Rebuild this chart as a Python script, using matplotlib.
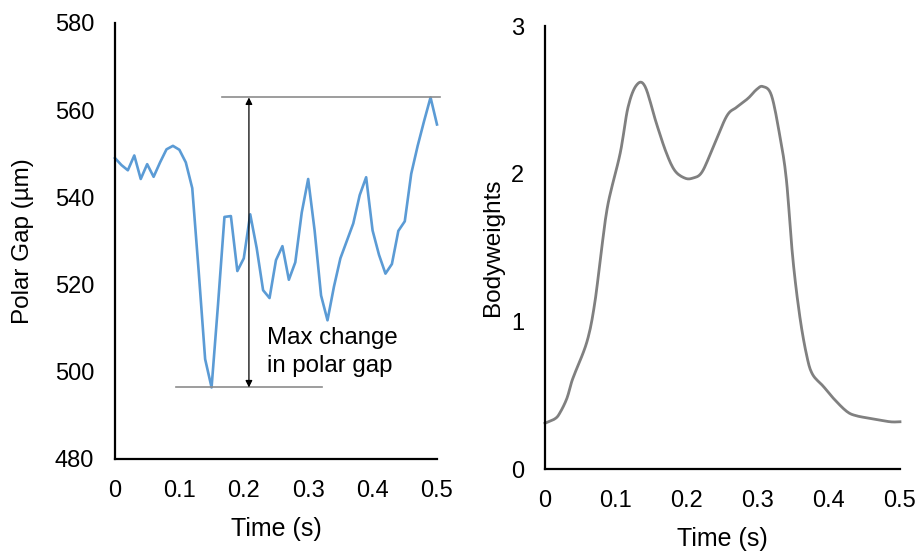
import matplotlib
matplotlib.use('Agg')
import matplotlib.pyplot as plt
import numpy as np

plt.rcParams['font.family'] = ['Liberation Sans', 'DejaVu Sans']

# polar gap trace, sampled every 10 ms
gap_time = [i / 100 for i in range(51)]
gap_um = [549.0, 547.4, 546.2, 549.6, 544.2, 547.6, 544.7, 548.0, 551.0, 551.8,
          550.9, 548.0, 542.1, 523.0, 502.9, 496.4, 515.4, 535.5, 535.7, 523.1,
          526.0, 536.1, 528.4, 518.7, 516.9, 525.6, 528.8, 521.1, 525.1, 536.5,
          544.2, 532.4, 517.5, 511.8, 519.5, 526.0, 530.0, 534.0, 540.5, 544.6,
          532.4, 526.8, 522.5, 524.7, 532.3, 534.5, 545.4, 551.8, 557.5, 562.9,
          556.7]

# ground reaction force in bodyweights
bw_time = [0.000, 0.014, 0.021, 0.031, 0.039, 0.059, 0.070, 0.080, 0.089, 0.106,
           0.117, 0.129, 0.141, 0.157, 0.171, 0.183, 0.197, 0.208, 0.221, 0.237,
           0.256, 0.270, 0.286, 0.298, 0.307, 0.319, 0.331, 0.340, 0.349, 0.359,
           0.369, 0.377, 0.392, 0.406, 0.425, 0.439, 0.462, 0.486, 0.500]
bw = [0.31, 0.34, 0.38, 0.48, 0.61, 0.86, 1.12, 1.50, 1.80, 2.14,
      2.45, 2.60, 2.59, 2.34, 2.14, 2.02, 1.97, 1.97, 2.01, 2.18,
      2.39, 2.45, 2.51, 2.57, 2.59, 2.53, 2.25, 1.96, 1.43, 1.03,
      0.76, 0.64, 0.56, 0.48, 0.39, 0.36, 0.34, 0.32, 0.32]

x_ticks = [0, 0.1, 0.2, 0.3, 0.4, 0.5]
x_ticklabels = ['0', '0.1', '0.2', '0.3', '0.4', '0.5']
gap_ticks = [480, 500, 520, 540, 560, 580]
bw_ticks = [0, 1, 2, 3]

gap_min = min(gap_um)
gap_max = max(gap_um)


def smooth_line(x, y, steps=8):
    # Catmull-Rom curve through the points, like a spreadsheet "smoothed line"
    x = np.asarray(x, float)
    y = np.asarray(y, float)
    px = np.concatenate([[x[0]], x, [x[-1]]])
    py = np.concatenate([[y[0]], y, [y[-1]]])
    xs, ys = [], []
    s = np.linspace(0, 1, steps, endpoint=False)
    for i in range(1, len(px) - 2):
        for p, out in ((px, xs), (py, ys)):
            p0, p1, p2, p3 = p[i - 1], p[i], p[i + 1], p[i + 2]
            out.extend(0.5 * (2 * p1 + (-p0 + p2) * s
                              + (2 * p0 - 5 * p1 + 4 * p2 - p3) * s ** 2
                              + (-p0 + 3 * p1 - 3 * p2 + p3) * s ** 3))
    xs.append(x[-1])
    ys.append(y[-1])
    return xs, ys


fig = plt.figure(figsize=(9.19, 5.51), dpi=100)
ax1 = fig.add_axes([0.1251, 0.1670, 0.3504, 0.7915])
ax2 = fig.add_axes([0.5930, 0.1488, 0.3863, 0.8040])


def style_axis(ax):
    for side in ('top', 'right'):
        ax.spines[side].set_visible(False)
    for side in ('left', 'bottom'):
        ax.spines[side].set_linewidth(1.6)
        ax.spines[side].set_color('black')
    ax.tick_params(length=0, labelsize=17, pad=15)
    ax.set_xlim(0, 0.5)
    ax.set_xticks(x_ticks)
    ax.set_xticklabels(x_ticklabels)
    ax.set_xlabel('Time (s)', fontsize=18, labelpad=11)


# left panel: polar gap
ax1.plot(gap_time, gap_um, color='#5B9BD5', lw=1.9, clip_on=False)
style_axis(ax1)
ax1.set_ylim(480, 580)
ax1.set_yticks(gap_ticks)
ax1.set_ylabel('Polar Gap (µm)', fontsize=17.5, labelpad=15)

# range markers and arrow
ax1.plot([0.166, 0.505], [gap_max, gap_max], color='#8c8c8c', lw=1.2, clip_on=False)
ax1.plot([0.095, 0.321], [gap_min, gap_min], color='#8c8c8c', lw=1.2, clip_on=False)
ax1.annotate('', xy=(0.208, gap_max), xytext=(0.208, gap_min),
             arrowprops=dict(arrowstyle='<|-|>', color='black', lw=0.9,
                             mutation_scale=10, shrinkA=0, shrinkB=0))
ax1.text(0.236, 510.3, 'Max change\nin polar gap', fontsize=17.3,
         va='top', ha='left', linespacing=1.38)

# right panel: bodyweights
sx, sy = smooth_line(bw_time, bw)
ax2.plot(sx, sy, color='#808080', lw=2.0, clip_on=False)
style_axis(ax2)
ax2.set_ylim(0, 3)
ax2.set_yticks(bw_ticks)
ax2.set_ylabel('Bodyweights', fontsize=17.5, labelpad=5)

fig.savefig('out.png', dpi=100)
